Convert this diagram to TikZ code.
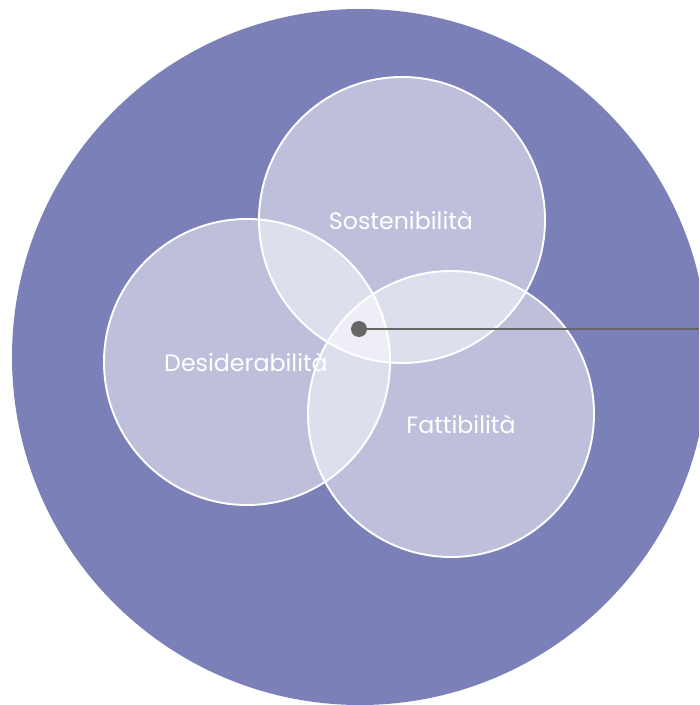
\documentclass[tikz,border=0pt]{standalone}
\usepackage{fontspec}
\setmainfont{Poppins}
\usetikzlibrary{positioning}

\definecolor{bigfill}{HTML}{7B80B8}
\definecolor{pingray}{HTML}{666666}

\tikzset{
    area/.style={draw=white, line width=1.1pt, fill=white, fill opacity=0.5},
    arealabel/.style={text=white, font=\fontsize{13.5}{16}\selectfont, text opacity=1},
    pin/.style={circle, fill=pingray, inner sep=0pt, minimum size=0.32cm}
}

\begin{document}
\begin{tikzpicture}[x=0.02cm, y=-0.02cm]

    % --- Frame ---
    \useasboundingbox (0,0) rectangle (699,705);
    \clip (0,0) rectangle (699,705);

    % --- Outer circle ---
    \fill[bigfill] (360,357) circle[radius=348];

    % Sostenibilità
    \draw[area] (402,220) circle[radius=143];
    \node[arealabel] (sost) at (401,220) {Sostenibilità};

    % Desiderabilità
    \draw[area] (247,362) circle[radius=143];
    \node[arealabel] (desi) at (246,362) {Desiderabilità};

    % Fattibilità
    \draw[area] (451,414) circle[radius=143];
    \node[arealabel] (fatt) at (461,424) {Fattibilità};

    % --- Pin at the overlap ---
    \node[pin] (core) at (359,329) {};
    \coordinate (rim) at (699,329);
    \draw[pingray, line width=0.9pt] (core.center) -- (rim);

\end{tikzpicture}
\end{document}
